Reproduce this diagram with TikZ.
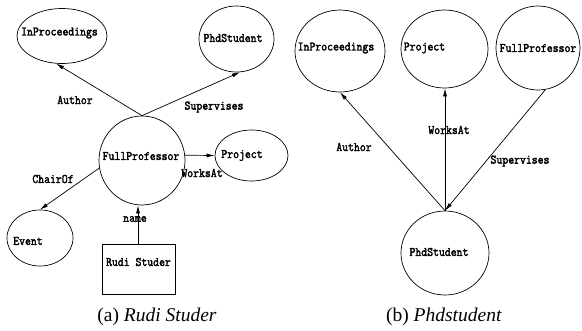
\documentclass[tikz,border=0pt]{standalone}
\usepackage{fontspec}
\setmainfont{Liberation Serif}
% condensed, emboldened typewriter for class and relation names
\newfontfamily\lblfont{Latin Modern Mono}[FakeStretch=0.88, FakeBold=2.2]
\usetikzlibrary{arrows.meta,shapes.geometric}
\tikzset{
  cls/.style={draw, ellipse, line width=0.7pt, inner sep=0pt},
  val/.style={draw, rectangle, line width=0.7pt, inner sep=0pt},
  txt/.style={font=\lblfont\fontsize{13}{13}\selectfont, inner sep=0pt},
  rel/.style={line width=0.7pt, -{Latex[length=8pt,width=4pt]}},
  edgelbl/.style={txt},
  caption/.style={font=\fontsize{19.5}{20}\selectfont, inner sep=0pt}
}
\begin{document}
\begin{tikzpicture}[x=1pt,y=-1pt]
\useasboundingbox (0,0) rectangle (582,330);

% (a) instance graph of Rudi Studer
\node[cls, minimum width=90pt, minimum height=55pt,
      label={[txt,xshift=-2.5pt,yshift=3pt]center:InProceedings}] (lInP) at (62,36) {};
\node[cls, minimum width=75pt, minimum height=66pt,
      label={[txt,xshift=-3.5pt,yshift=1pt]center:PhdStudent}] (lPhd) at (236.5,39) {};
\node[cls, minimum width=86pt, minimum height=89pt,
      label={[txt,xshift=-1pt,yshift=4.5pt]center:FullProfessor}] (lFull) at (142,160.5) {};
\node[cls, minimum width=73pt, minimum height=51pt,
      label={[txt,xshift=-9.5pt]center:Project}] (lProj) at (251.5,155.5) {};
\node[cls, minimum width=66pt, minimum height=56pt,
      label={[txt,xshift=-12pt,yshift=-3pt]center:Event}] (lEvent) at (40,238) {};
\node[val, minimum width=73pt, minimum height=50pt,
      label={[txt,yshift=7pt]center:Rudi Studer}] (rudi) at (138.5,269) {};

\draw[rel] (lFull.north) -- (lInP.258);
\draw[rel] (lFull.north) -- (lPhd.276);
\draw[rel] (lFull.7) -- (lProj.west);
\draw[rel] (lFull.190) -- (lEvent.north);
\draw[rel] (rudi.north -| 138,0) -- (lFull.south -| 138,0);

\node[edgelbl] (lAuthor) at (75,100) {Author};
\node[edgelbl] (lSup) at (214,107) {Supervises};
\node[edgelbl] (lWorks) at (202,173) {WorksAt};
\node[edgelbl] (lChair) at (53,179) {ChairOf};
\node[edgelbl] (lName) at (135,219) {name};

\node[caption] (capA) at (157,317) {(a) \textit{Rudi Studer}};

% (b) class graph of Phdstudent
\node[cls, minimum width=90pt, minimum height=82pt,
      label={[txt,xshift=-4pt,yshift=3pt]center:InProceedings}] (rInP) at (340,51) {};
\node[cls, minimum width=87pt, minimum height=78pt,
      label={[txt,xshift=-20pt,yshift=1pt]center:Project}] (rProj) at (444.5,49) {};
\node[cls, minimum width=84pt, minimum height=84pt,
      label={[txt,yshift=0pt]center:FullProfessor}] (rFull) at (538,48) {};
\node[cls, minimum width=88pt, minimum height=84pt,
      label={[txt,xshift=-6pt,yshift=1pt]center:PhdStudent}] (rPhd) at (445,253) {};

\draw[rel] (rPhd.north) -- (rInP.south);
\draw[rel] (rPhd.north) -- (rPhd.north |- rProj.south);
\draw[rel] (rFull.-80) -- (rPhd.north);

\node[edgelbl] (rAuthor) at (354,147) {Author};
\node[edgelbl] (rWorks) at (449,130) {WorksAt};
\node[edgelbl] (rSup) at (520,161) {Supervises};

\node[caption] (capB) at (444,317) {(b) \textit{Phdstudent}};
\end{tikzpicture}
\end{document}
